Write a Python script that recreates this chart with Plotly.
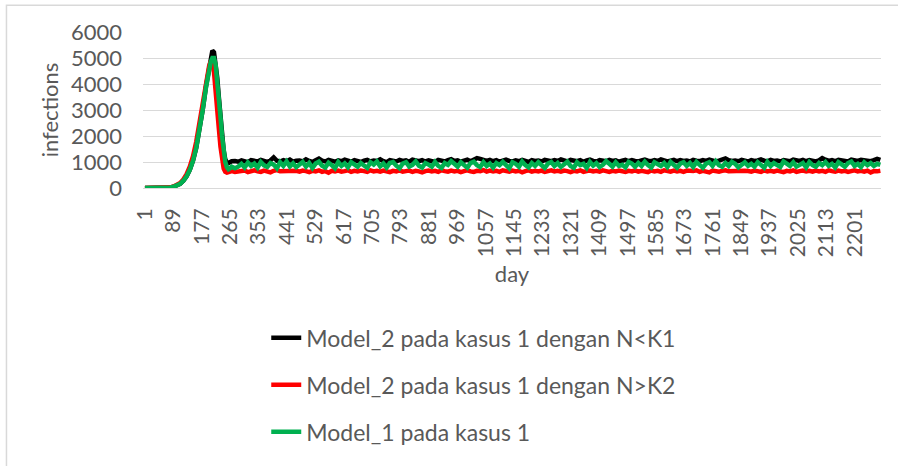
import plotly.graph_objects as go

# ---- data ----
early_days = [1, 30, 60, 80, 90, 100, 110, 120, 130, 140, 150, 160, 170, 180, 190,
              200, 205, 210, 215, 220, 225, 230, 235, 240, 245, 250, 255, 260, 265, 270]
plateau_days = list(range(280, 2281, 10))
days = early_days + plateau_days

black_early = [0, 0, 5, 20, 50, 90, 160, 280, 450, 700, 1050, 1550, 2200, 3000, 3900,
               4700, 5050, 5280, 5220, 4850, 4250, 3500, 2750, 2000, 1450, 1100, 980, 960, 1000, 1030]
red_early = [0, 0, 5, 25, 60, 110, 190, 330, 530, 820, 1220, 1780, 2480, 3300, 4100,
             4700, 4880, 4800, 4450, 3850, 3100, 2300, 1600, 1050, 750, 620, 590, 610, 630, 650]
green_early = [0, 0, 5, 20, 50, 90, 160, 280, 450, 700, 1050, 1550, 2200, 3000, 3850,
               4550, 4850, 5000, 5000, 4750, 4200, 3500, 2750, 2000, 1400, 1000, 800, 720, 760, 820]

black_plateau = [
    1040, 1010, 1060, 1030, 990, 1070, 1050, 1020, 1080, 1040, 1000, 1060, 1180, 1050, 1020, 1070, 1030, 1090, 1010, 1050,
    1060, 1020, 1100, 1040, 1000, 1070, 1130, 1050, 1020, 1080, 1040, 1010, 1060, 1030, 1090, 1050, 1010, 1070, 1040, 1000,
    1050, 1080, 1020, 1060, 1040, 1100, 1030, 990, 1070, 1050, 1020, 1080, 1040, 1060, 1010, 1090, 1050, 1030, 1070, 1020,
    1060, 1040, 1000, 1080, 1050, 1020, 1070, 1110, 1040, 1060, 1010, 1050, 1090, 1030, 1070, 1150, 1120, 1060, 1040, 1080,
    1030, 1070, 1010, 1050, 1090, 1040, 1020, 1060, 1030, 1080, 1050, 1000, 1070, 1040, 1060, 1020, 1080, 1050, 1030, 1070,
    1040, 1100, 1060, 1020, 1080, 1050, 1030, 1070, 1010, 1060, 1090, 1040, 1020, 1070, 1050, 1030, 1080, 1040, 1060, 1010,
    1050, 1080, 1030, 1070, 1040, 1020, 1060, 1090, 1050, 1030, 1070, 1040, 1100, 1060, 1020, 1050, 1080, 1030, 1070, 1040,
    1060, 1020, 1080, 1050, 1030, 1070, 1040, 1090, 1060, 1020, 1050, 1080, 1140, 1070, 1040, 1060, 1030, 1080, 1050, 1020,
    1070, 1040, 1060, 1100, 1050, 1030, 1080, 1040, 1060, 1020, 1070, 1050, 1030, 1090, 1060, 1040, 1080, 1030, 1070, 1050,
    1020, 1060, 1150, 1090, 1040, 1070, 1030, 1080, 1050, 1060, 1020, 1090, 1070, 1040, 1080, 1050, 1060, 1030, 1070, 1120,
    1080]
red_plateau = [
    620, 650, 640, 670, 610, 660, 680, 640, 620, 670, 650, 600, 660, 690, 640, 650, 620, 670, 640, 660,
    630, 670, 650, 610, 660, 640, 680, 620, 650, 590, 660, 640, 670, 630, 650, 680, 620, 660, 640, 670,
    650, 620, 680, 640, 660, 630, 670, 650, 610, 660, 640, 680, 630, 650, 670, 620, 660, 640, 600, 650,
    670, 640, 660, 620, 680, 650, 630, 670, 640, 660, 610, 650, 680, 640, 620, 660, 650, 690, 630, 670,
    640, 660, 620, 680, 650, 630, 670, 640, 660, 600, 650, 680, 630, 660, 640, 670, 620, 650, 680, 640,
    660, 630, 670, 650, 610, 660, 640, 680, 620, 650, 670, 640, 660, 630, 680, 650, 620, 660, 640, 670,
    650, 620, 660, 640, 680, 630, 660, 650, 610, 670, 640, 660, 620, 680, 650, 630, 670, 640, 660, 620,
    670, 640, 650, 680, 620, 660, 640, 600, 670, 650, 630, 660, 680, 640, 650, 620, 670, 640, 660, 650,
    630, 670, 650, 620, 680, 640, 660, 630, 670, 650, 610, 660, 640, 680, 620, 650, 670, 640, 660, 630,
    670, 640, 660, 620, 680, 650, 630, 670, 640, 660, 620, 650, 680, 640, 660, 630, 670, 600, 650, 640,
    660]
green_plateau = [
    760, 820, 930, 790, 980, 850, 940, 780, 1000, 870, 810, 960, 900, 760, 990, 850, 1020, 830, 950, 800,
    900, 1000, 820, 960, 770, 940, 1010, 860, 790, 970, 880, 760, 1000, 850, 950, 800, 990, 880, 820, 960,
    850, 770, 990, 900, 1020, 830, 940, 790, 960, 1000, 860, 760, 940, 990, 820, 890, 1020, 860, 790, 960,
    900, 820, 1000, 850, 770, 960, 890, 1030, 930, 820, 990, 860, 780, 960, 1010, 880, 810, 990, 850, 940,
    790, 960, 880, 1000, 850, 760, 990, 930, 820, 1020, 880, 790, 960, 850, 990, 890, 770, 940, 1000, 850,
    960, 810, 890, 1010, 850, 780, 990, 880, 930, 770, 1000, 860, 960, 810, 890, 1030, 930, 820, 990, 850,
    890, 790, 1000, 940, 820, 960, 850, 1010, 880, 790, 990, 930, 850, 960, 810, 1000, 880, 780, 940, 990,
    850, 960, 810, 1000, 890, 780, 940, 990, 850, 1030, 880, 820, 960, 850, 1000, 930, 790, 880, 990, 850,
    930, 820, 990, 890, 780, 1000, 850, 960, 880, 810, 1020, 930, 850, 990, 820, 890, 960, 790, 1000, 880,
    820, 960, 880, 1000, 850, 930, 790, 990, 880, 820, 960, 1020, 850, 930, 810, 990, 880, 960, 850, 930,
    890]

black_vals = black_early + black_plateau
red_vals = red_early + red_plateau
green_vals = green_early + green_plateau

series_names = ["Model_2 pada kasus 1 dengan N<K1",
                "Model_2 pada kasus 1 dengan N>K2",
                "Model_1 pada kasus 1"]
series_colors = ["#000000", "#FF0000", "#00B050"]

x_tick_vals = list(range(1, 2202, 88))
x_tick_text = [str(v) for v in x_tick_vals]
y_tick_vals = [0, 1000, 2000, 3000, 4000, 5000, 6000]

FONT = "Lato"
TXT = "#595959"
FS = 22

fig = go.Figure()
for name, vals, col in zip(series_names, [black_vals, red_vals, green_vals], series_colors):
    fig.add_trace(go.Scatter(x=days, y=vals, mode="lines", name=name,
                             legendgroup=name,
                             line=dict(color=col, width=4.5)))

fig.update_layout(
    width=898, height=466,
    margin=dict(l=143, r=17, t=32, b=275),
    paper_bgcolor="white", plot_bgcolor="white",
    font=dict(family=FONT, size=FS, color=TXT),
    showlegend=True,
    legend=dict(x=0.167, xanchor="left", y=-0.823, yanchor="top",
                traceorder="grouped", tracegroupgap=14,
                font=dict(family=FONT, size=23, color=TXT),
                bgcolor="rgba(0,0,0,0)"),
    xaxis=dict(range=[-5, 2282], tickmode="array", tickvals=x_tick_vals,
               ticktext=x_tick_text, tickangle=-90, showgrid=False,
               zeroline=False, showline=True, linecolor="#D9D9D9", linewidth=1,
               ticks="", ticklabelstandoff=11,
               tickfont=dict(family=FONT, size=21, color=TXT),
               title=dict(text="day", standoff=10,
                          font=dict(family=FONT, size=FS, color=TXT))),
    yaxis=dict(range=[0, 6000], tickmode="array", tickvals=y_tick_vals,
               tickformat="d", showgrid=True, gridcolor="#D9D9D9", gridwidth=1,
               zeroline=False, showline=False, ticks="", ticklabelstandoff=20,
               tickfont=dict(family=FONT, size=FS, color=TXT),
               title=dict(text="infections", standoff=6,
                          font=dict(family=FONT, size=FS, color=TXT))),
    shapes=[dict(type="rect", xref="paper", yref="paper",
                 x0=-0.185, x1=1.04, y0=-1.8, y1=1.1707,
                 line=dict(color="#D9D9D9", width=1.5), layer="below")],
)

fig.write_html("out.html", config={"displayModeBar": False},
               post_script="document.body.style.margin='0';")
